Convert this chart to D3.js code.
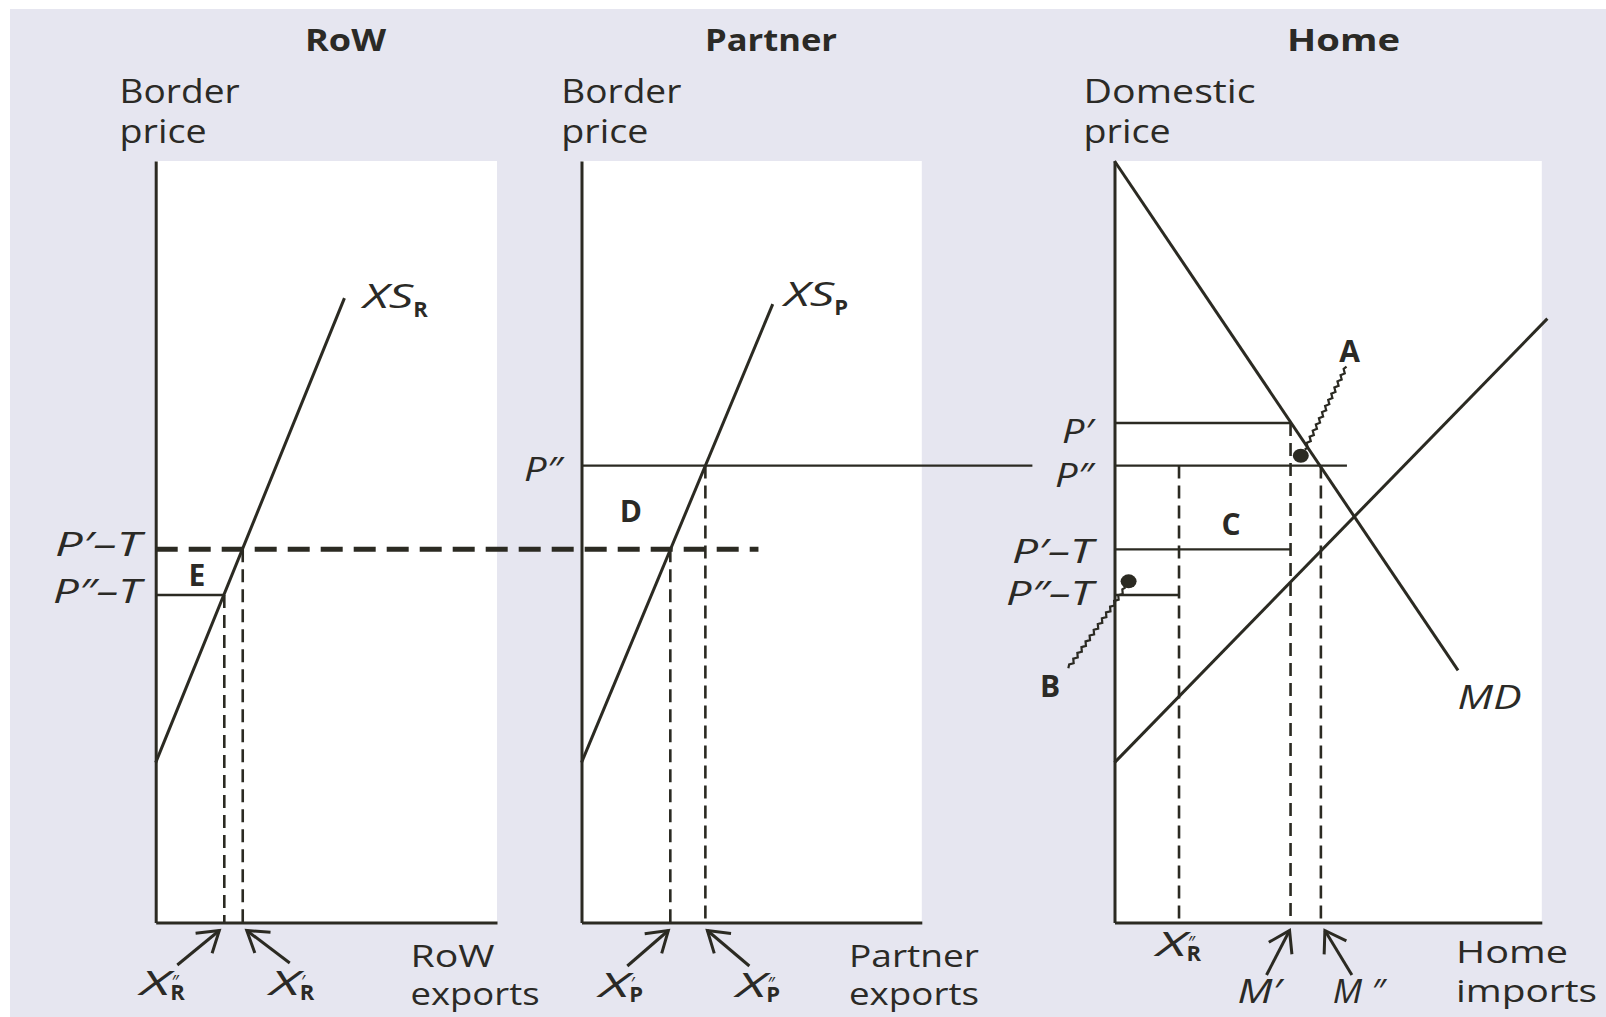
<!DOCTYPE html>
<html>
<head>
<meta charset="utf-8">
<script src="https://cdn.jsdelivr.net/npm/d3@7"></script>
<style>
  body { margin: 0; background: #fff; }
  svg text { font-family: "Open Sans", "Noto Sans", sans-serif; fill: #2b2a26; }
</style>
</head>
<body>
<div id="chart"></div>
<script>
// titles
var panelTitles = ["RoW", "Partner", "Home"];
var priceTitles = [["Border", "price"], ["Border", "price"], ["Domestic", "price"]];
var qtyTitles = [["RoW", "exports"], ["Partner", "exports"], ["Home", "imports"]];

// price levels, 0 = origin, 100 = top of the plot box
var pNames = ["P′", "P″", "P′–T", "P″–T"];
var pLevels = [65.6, 60, 49, 43];

// straight curves as [quantity, price] end points
var xsRowLine = [[0, 21], [55.3, 82]];
var xsPartnerLine = [[0, 21], [56.2, 81.2]];
var mdLine = [[0, 100], [80.4, 33.1]];
var homeSupplyLine = [[0, 21], [101.3, 79.3]];

// quantities marked on the horizontal axes
var rowQty = [20.1, 25.5];          // X″R, X′R
var partnerQty = [26.1, 36.4];      // X′P, X″P
var homeQty = [15.1, 41.2, 48.3];   // X″R, M′, M″

// where the horizontal price lines stop
var dashEnd = 52;        // P′–T, in partner units
var partnerPEnd = 132.5; // P″ from the partner axis
var homePEnd = 54.4;     // P″ in home

// the two marked points in home
var pointA = [43.6, 61.3];
var pointB = [3.3, 44.8];

var ink = "#2b2a22";

var svg = d3.select("#chart").append("svg")
    .attr("width", 1606)
    .attr("height", 1017);

svg.append("rect")
    .attr("x", 10).attr("y", 9)
    .attr("width", 1596).attr("height", 1008)
    .attr("fill", "#e6e6f0");

svg.append("defs").append("marker")
    .attr("id", "arr")
    .attr("markerUnits", "userSpaceOnUse")
    .attr("viewBox", "-26 -16 30 32")
    .attr("markerWidth", 30).attr("markerHeight", 32)
    .attr("refX", 0).attr("refY", 0)
    .attr("orient", "auto")
    .append("path")
    .attr("d", "M-20,-13L0,0L-20,13")
    .attr("fill", "none")
    .attr("stroke", ink)
    .attr("stroke-width", 3);

var price = d3.scaleLinear().domain([0, 100]).range([922.5, 161]);
var xRow = d3.scaleLinear().domain([0, 100]).range([155.7, 497]);
var xPartner = d3.scaleLinear().domain([0, 100]).range([581.5, 921.8]);
var xHome = d3.scaleLinear().domain([0, 100]).range([1114.5, 1541.8]);
var xScales = [xRow, xPartner, xHome];

function lineOf(xs) {
    return d3.line().x(function(d) { return xs(d[0]); }).y(function(d) { return price(d[1]); });
}

function seg(x1, y1, x2, y2, kind) {
    var l = svg.append("line")
        .attr("x1", x1).attr("y1", y1).attr("x2", x2).attr("y2", y2)
        .attr("stroke", ink);
    if (kind == "dash") l.attr("stroke-width", 2.6).attr("stroke-dasharray", "13,7");
    else if (kind == "bigdash") l.attr("stroke-width", 5).attr("stroke-dasharray", "22,11");
    else l.attr("stroke-width", 2.4);
    return l;
}

// len stretches the glyphs to the width
function txt(x, y, str, size, opts) {
    opts = opts || {};
    var t = svg.append("text")
        .attr("x", x).attr("y", y)
        .style("font-size", size + "px")
        .text(str);
    if (opts.italic) t.style("font-style", "italic");
    if (opts.bold) t.style("font-weight", 700);
    if (opts.anchor) t.attr("text-anchor", opts.anchor);
    if (opts.len) t.attr("textLength", opts.len).attr("lengthAdjust", "spacingAndGlyphs");
    return t;
}

// italic letter with a bold subscript and maybe a prime above it
function subLabel(x, y, main, w, prime, sub, subDy) {
    txt(x, y, main, 32, { italic: true, len: w });
    txt(x + w, y + subDy, sub, 22, { bold: true });
    if (prime) txt(x + w + 1, y - 7, prime, 18, { italic: true });
}

function wavy(p0, p1) {
    var dx = p1[0] - p0[0], dy = p1[1] - p0[1];
    var len = Math.sqrt(dx * dx + dy * dy), n = Math.round(len / 3.5);
    var nx = -dy / len, ny = dx / len, pts = [];
    for (var i = 0; i <= n; i++) {
        var o = (i == 0 || i == n) ? 0 : (i % 2 ? 1.5 : -1.5);
        pts.push([p0[0] + dx * i / n + nx * o, p0[1] + dy * i / n + ny * o]);
    }
    return d3.line()(pts);
}

// panels: white box and axes
xScales.forEach(function(xs, i) {
    svg.append("rect")
        .attr("x", xs(0)).attr("y", price(100))
        .attr("width", xs(100) - xs(0)).attr("height", price(0) - price(100))
        .attr("fill", "#fff");
    svg.append("g")
        .attr("class", "axis")
        .attr("transform", "translate(" + xs(0) + ",0)")
        .call(d3.axisLeft(price).tickValues([]).tickSizeOuter(0));
    svg.append("g")
        .attr("class", "axis")
        .attr("transform", "translate(0," + price(0) + ")")
        .call(d3.axisBottom(xs).tickValues([]).tickSizeOuter(0));
});
svg.selectAll(".axis path.domain")
    .attr("stroke", ink)
    .attr("stroke-width", 3);

// titles
var titleX = [345.5, 771, 1343.5], titleW = [81, 132, 113];
panelTitles.forEach(function(s, i) {
    txt(titleX[i], 51, s, 31, { bold: true, anchor: "middle", len: titleW[i] });
});
var ptX = [119.6, 561.3, 1083.6], ptW = [[120, 87], [120, 87], [172, 87]];
priceTitles.forEach(function(s, i) {
    txt(ptX[i], 103, s[0], 33, { len: ptW[i][0] });
    txt(ptX[i], 143, s[1], 33, { len: ptW[i][1] });
});
var qtX = [410.5, 849, 1456], qtY = [[967, 1005], [967, 1005], [963, 1002]];
var qtW = [[84, 129], [130, 130], [112, 141]];
qtyTitles.forEach(function(s, i) {
    txt(qtX[i], qtY[i][0], s[0], 31, { len: qtW[i][0] });
    txt(qtX[i], qtY[i][1], s[1], 31, { len: qtW[i][1] });
});

// ---- RoW ----
seg(xRow(0), price(pLevels[3]), xRow(rowQty[0]), price(pLevels[3]));
seg(xRow(rowQty[0]), price(pLevels[3]), xRow(rowQty[0]), price(0), "dash");
seg(xRow(rowQty[1]), price(pLevels[2]), xRow(rowQty[1]), price(0), "dash");
svg.append("path").attr("d", lineOf(xRow)(xsRowLine))
    .attr("fill", "none").attr("stroke", ink).attr("stroke-width", 3);
seg(xRow(0), price(pLevels[2]), xPartner(dashEnd), price(pLevels[2]), "bigdash");
txt(xRow(0) - 100.7, price(pLevels[2]) + 7, pNames[2], 32, { italic: true, len: 86 });
txt(xRow(0) - 102.7, price(pLevels[3]) + 8, pNames[3], 32, { italic: true, len: 88 });
txt(xRow(12.1), price(44.2), "E", 30, { bold: true, anchor: "middle" });
subLabel(xRow(60.8), price(80.7), "XS", 50, null, "R", 9);

// ---- Partner ----
seg(xPartner(0), price(pLevels[1]), xPartner(partnerPEnd), price(pLevels[1]));
seg(xPartner(partnerQty[0]), price(pLevels[2]), xPartner(partnerQty[0]), price(0), "dash");
seg(xPartner(partnerQty[1]), price(pLevels[1]), xPartner(partnerQty[1]), price(0), "dash");
svg.append("path").attr("d", lineOf(xPartner)(xsPartnerLine))
    .attr("fill", "none").attr("stroke", ink).attr("stroke-width", 3);
txt(xPartner(0) - 57.5, price(pLevels[1]) + 15, pNames[1], 32, { italic: true, len: 38 });
txt(xPartner(14.5), price(52.6), "D", 30, { bold: true, anchor: "middle" });
subLabel(xPartner(59.6), price(80.9), "XS", 50, null, "P", 9);

// ---- Home ----
seg(xHome(0), price(pLevels[0]), xHome(homeQty[1]), price(pLevels[0]));
seg(xHome(0), price(pLevels[1]), xHome(homePEnd), price(pLevels[1]));
seg(xHome(0), price(pLevels[2]), xHome(homeQty[1]), price(pLevels[2]));
seg(xHome(0), price(pLevels[3]), xHome(homeQty[0]), price(pLevels[3]));
seg(xHome(homeQty[0]), price(pLevels[1]), xHome(homeQty[0]), price(0), "dash");
seg(xHome(homeQty[1]), price(pLevels[0]), xHome(homeQty[1]), price(0), "dash");
seg(xHome(homeQty[2]), price(pLevels[1]), xHome(homeQty[2]), price(0), "dash");
svg.append("path").attr("d", lineOf(xHome)(mdLine))
    .attr("fill", "none").attr("stroke", ink).attr("stroke-width", 3);
svg.append("path").attr("d", lineOf(xHome)(homeSupplyLine))
    .attr("fill", "none").attr("stroke", ink).attr("stroke-width", 3);
var homeLabelDy = [20, 21, 14, 10], homeLabelW = [31, 38, 81, 87];
pNames.forEach(function(s, i) {
    txt(xHome(0) - 21.5 - homeLabelW[i], price(pLevels[i]) + homeLabelDy[i], s, 32,
        { italic: true, len: homeLabelW[i] });
});
txt(xHome(27.3), price(50.9), "C", 30, { bold: true, anchor: "middle" });
txt(xHome(80.3), price(28), "MD", 32, { italic: true, len: 64 });

// A and B with their wavy leaders
svg.append("path")
    .attr("d", wavy([xHome(54.3), price(73)], [xHome(pointA[0]) + 4, price(pointA[1]) - 6]))
    .attr("fill", "none").attr("stroke", ink).attr("stroke-width", 2.2);
svg.append("path")
    .attr("d", wavy([xHome(pointB[0]) - 3, price(pointB[1]) + 6], [xHome(-10.8), price(33.4)]))
    .attr("fill", "none").attr("stroke", ink).attr("stroke-width", 2.2);
[pointA, pointB].forEach(function(p) {
    svg.append("ellipse")
        .attr("cx", xHome(p[0])).attr("cy", price(p[1]))
        .attr("rx", 8).attr("ry", 7)
        .attr("fill", ink);
});
txt(xHome(55), price(73.6), "A", 30, { bold: true, anchor: "middle" });
txt(xHome(-15.1), price(29.6), "B", 30, { bold: true, anchor: "middle" });

// arrows and quantity labels under the axes
function arrow(xs, q, dHead, dTail, tailY) {
    svg.append("line")
        .attr("x1", xs(q) + dTail).attr("y1", tailY)
        .attr("x2", xs(q) + dHead).attr("y2", price(0) + 8)
        .attr("stroke", ink).attr("stroke-width", 3)
        .attr("marker-end", "url(#arr)");
}
arrow(xRow, rowQty[0], -5, -47, 965);
arrow(xRow, rowQty[1], 4, 47, 963);
arrow(xPartner, partnerQty[0], -2, -43, 966);
arrow(xPartner, partnerQty[1], 2, 44, 966);
arrow(xHome, homeQty[1], -1, -24, 975);
arrow(xHome, homeQty[2], 4, 31, 975);

subLabel(xRow(rowQty[0]) - 84, 995, "X", 30, "″", "R", 5);
subLabel(xRow(rowQty[1]) + 27, 995, "X", 30, "′", "R", 5);
subLabel(xPartner(partnerQty[0]) - 71, 997, "X", 30, "′", "P", 5);
subLabel(xPartner(partnerQty[1]) + 31, 997, "X", 30, "″", "P", 5);
subLabel(xHome(homeQty[0]) - 22.5, 956, "X", 30, "″", "R", 5);
txt(xHome(homeQty[1]) - 53, 1003, "M′", 32, { italic: true, len: 44 });
txt(xHome(homeQty[2]) + 12, 1003, "M ″", 32, { italic: true, len: 52 });
</script>
</body>
</html>
